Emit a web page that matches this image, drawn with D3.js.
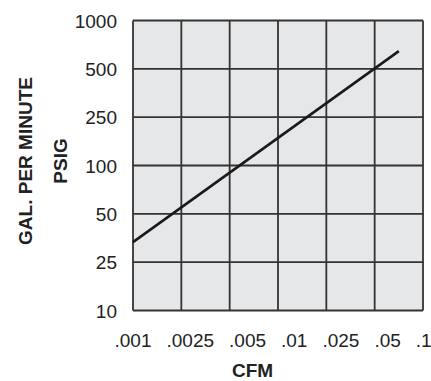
<!DOCTYPE html>
<html>
<head>
<meta charset="utf-8">
<script src="https://cdn.jsdelivr.net/npm/d3@7"></script>
<style>
  html, body { margin: 0; padding: 0; background: #fff; }
  svg { display: block; }
  .tick-label { font-family: "Liberation Sans", Arial, sans-serif; font-size: 19px; fill: #222; }
  .title { font-family: "Liberation Sans", Arial, sans-serif; font-size: 19px; font-weight: bold; fill: #222; }
</style>
</head>
<body>
<svg id="chart" width="431" height="381"></svg>
<script>
// ---- data ----
const xTicks = [0.001, 0.0025, 0.005, 0.01, 0.025, 0.05, 0.1];
const xTickLabels = [".001", ".0025", ".005", ".01", ".025", ".05", ".1"];
const yTicks = [10, 25, 50, 100, 250, 500, 1000];
const yTickLabels = ["10", "25", "50", "100", "250", "500", "1000"];
const lineCFM = [0.001, 0.0707];
const linePSIG = [33.3, 645];

// ---- layout ----
const svg = d3.select("#chart");
const plotLeft = 133, plotRight = 423, plotTop = 20.5, plotBottom = 310.5;

// piecewise log scales: each labelled tick equally spaced
const x = d3.scaleLog()
  .domain(xTicks)
  .range(xTicks.map((d, i) => plotLeft + i * (plotRight - plotLeft) / (xTicks.length - 1)));
const y = d3.scaleLog()
  .domain(yTicks)
  .range(yTicks.map((d, i) => plotBottom - i * (plotBottom - plotTop) / (yTicks.length - 1)));

// background
svg.append("rect")
  .attr("x", plotLeft).attr("y", plotTop)
  .attr("width", plotRight - plotLeft).attr("height", plotBottom - plotTop)
  .attr("fill", "#e6e7e9");

// grid
const grid = svg.append("g").attr("stroke", "#333").attr("stroke-width", 1.8);
grid.selectAll("line.v").data(xTicks).join("line").attr("class", "v")
  .attr("x1", d => x(d)).attr("x2", d => x(d))
  .attr("y1", plotTop).attr("y2", plotBottom);
grid.selectAll("line.h").data(yTicks).join("line").attr("class", "h")
  .attr("x1", plotLeft).attr("x2", plotRight)
  .attr("y1", d => y(d)).attr("y2", d => y(d));

// data line
const pts = lineCFM.map((c, i) => [c, linePSIG[i]]);
svg.append("path")
  .datum(pts)
  .attr("fill", "none")
  .attr("stroke", "#1a1a1a")
  .attr("stroke-width", 2.6)
  .attr("d", d3.line().x(d => x(d[0])).y(d => y(d[1])));

// y tick labels
svg.append("g").selectAll("text").data(yTicks).join("text")
  .attr("class", "tick-label")
  .attr("x", 117)
  .attr("y", d => y(d) + 7)
  .attr("text-anchor", "end")
  .text((d, i) => yTickLabels[i]);

// x tick labels: first one centred on its gridline, the rest flow with equal gaps
const xl = svg.append("g");
const gap = 15;
let cursor = null;
xTicks.forEach((d, i) => {
  const t = xl.append("text").attr("class", "tick-label")
    .attr("y", 346.5).text(xTickLabels[i]);
  const w = t.node().getComputedTextLength();
  const start = (i === 0) ? x(d) - w / 2 : cursor + gap;
  t.attr("x", start);
  cursor = start + w;
});

// titles
svg.append("text").attr("class", "title")
  .attr("x", 252.5).attr("y", 377)
  .attr("text-anchor", "middle").text("CFM");
svg.append("text").attr("class", "title")
  .attr("transform", "translate(32,161) rotate(-90)")
  .attr("text-anchor", "middle").text("GAL. PER MINUTE");
svg.append("text").attr("class", "title")
  .attr("transform", "translate(67,161) rotate(-90)")
  .attr("text-anchor", "middle").text("PSIG");
</script>
</body>
</html>
